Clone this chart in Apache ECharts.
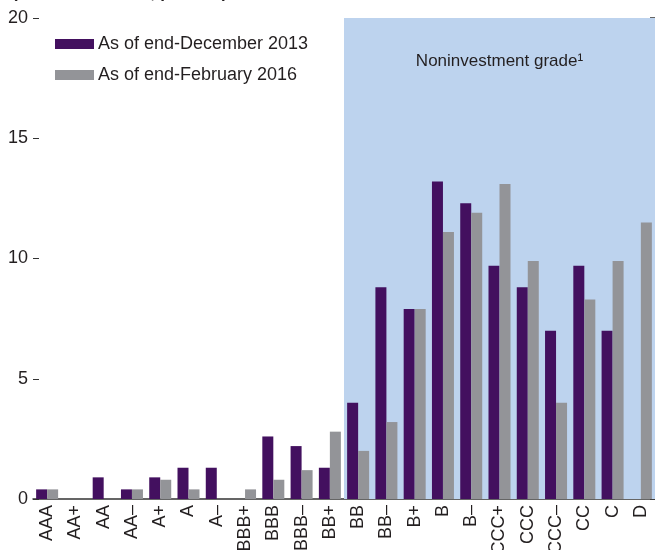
<!DOCTYPE html>
<html>
<head>
<meta charset="utf-8">
<script src="https://cdn.jsdelivr.net/npm/echarts@6/dist/echarts.min.js"></script>
<style>
  html, body { margin: 0; padding: 0; background: #fff; }
  #chart { width: 655px; height: 550px; }
</style>
</head>
<body>
<div id="chart"></div>
<script>
  // rating buckets
  let ratings = ['AAA', 'AA+', 'AA', 'AA–', 'A+', 'A', 'A–', 'BBB+', 'BBB', 'BBB–', 'BB+',
    'BB', 'BB–', 'B+', 'B', 'B–', 'CCC+', 'CCC', 'CCC–', 'CC', 'C', 'D']
  let dec2013 = [0.4, 0, 0.9, 0.4, 0.9, 1.3, 1.3, 0, 2.6, 2.2, 1.3,
    4.0, 8.8, 7.9, 13.2, 12.3, 9.7, 8.8, 7.0, 9.7, 7.0, 0]
  let feb2016 = [0.4, 0, 0, 0.4, 0.8, 0.4, 0, 0.4, 0.8, 1.2, 2.8,
    2.0, 3.2, 7.9, 11.1, 11.9, 13.1, 9.9, 4.0, 8.3, 9.9, 11.5]
  let yTicks = [0, 5, 10, 15, 20]
  // noninvestment grade starts at BB
  let highYieldFrom = 11

  let font = "'Liberation Sans', Arial, sans-serif"
  let ink = '#231f20'

  let chart = echarts.init(document.getElementById('chart'))
  let option = {
    animation: false,
    textStyle: { fontFamily: font, color: ink },
    title: {
      text: '(Share of issuers; percent)',
      left: 7,
      top: -20,
      textStyle: { fontFamily: font, fontSize: 17, fontWeight: 'bold', color: ink }
    },
    legend: {
      orient: 'vertical',
      left: 55,
      top: 35,
      padding: 0,
      icon: 'rect',
      itemWidth: 39,
      itemHeight: 10,
      itemGap: 13,
      textStyle: { fontFamily: font, fontSize: 18, color: ink, padding: [0, 0, 0, -1] },
      data: ['As of end-December 2013', 'As of end-February 2016']
    },
    grid: { left: 33, right: 0, top: 18, bottom: 51, outerBoundsMode: 'none' },
    xAxis: [{
      type: 'category',
      data: ratings,
      axisLine: { lineStyle: { color: '#333', width: 1.5 } },
      axisTick: { inside: true, length: 6, lineStyle: { color: '#333' } },
      axisLabel: { interval: 0, rotate: 90, fontFamily: font, fontSize: 18, color: ink, margin: 6 }
    }, {
      type: 'value',
      min: 0,
      max: ratings.length,
      show: false
    }],
    yAxis: [{
      type: 'value',
      min: yTicks[0],
      max: yTicks[yTicks.length - 1],
      interval: 5,
      splitLine: { show: false },
      axisLine: { show: false },
      axisTick: { show: true, inside: true, length: 6, lineStyle: { color: '#333' } },
      axisLabel: { fontFamily: font, fontSize: 18, color: ink, margin: 5 }
    }, {
      type: 'value',
      position: 'right',
      min: yTicks[0],
      max: yTicks[yTicks.length - 1],
      interval: 5,
      splitLine: { show: false },
      axisLine: { show: false },
      axisTick: { show: true, inside: true, length: 5, lineStyle: { color: '#333', width: 1.5 } },
      axisLabel: { show: false }
    }],
    series: [{
      name: 'shade',
      type: 'line',
      xAxisIndex: 1,
      data: [],
      silent: true,
      z: 0,
      markArea: {
        silent: true,
        itemStyle: { color: '#bdd3ee' },
        label: {
          show: true,
          position: 'insideTop',
          distance: 35,
          formatter: 'Noninvestment grade¹',
          fontFamily: font,
          fontSize: 17,
          color: ink
        },
        data: [[{ xAxis: highYieldFrom }, { xAxis: ratings.length }]]
      }
    }, {
      name: 'As of end-December 2013',
      type: 'bar',
      data: dec2013,
      barWidth: 11,
      barGap: '0%',
      itemStyle: { color: '#43105f' },
      z: 2
    }, {
      name: 'As of end-February 2016',
      type: 'bar',
      data: feb2016,
      barWidth: 11,
      barGap: '0%',
      itemStyle: { color: '#939498' },
      z: 2
    }]
  }
  chart.setOption(option)
</script>
</body>
</html>
